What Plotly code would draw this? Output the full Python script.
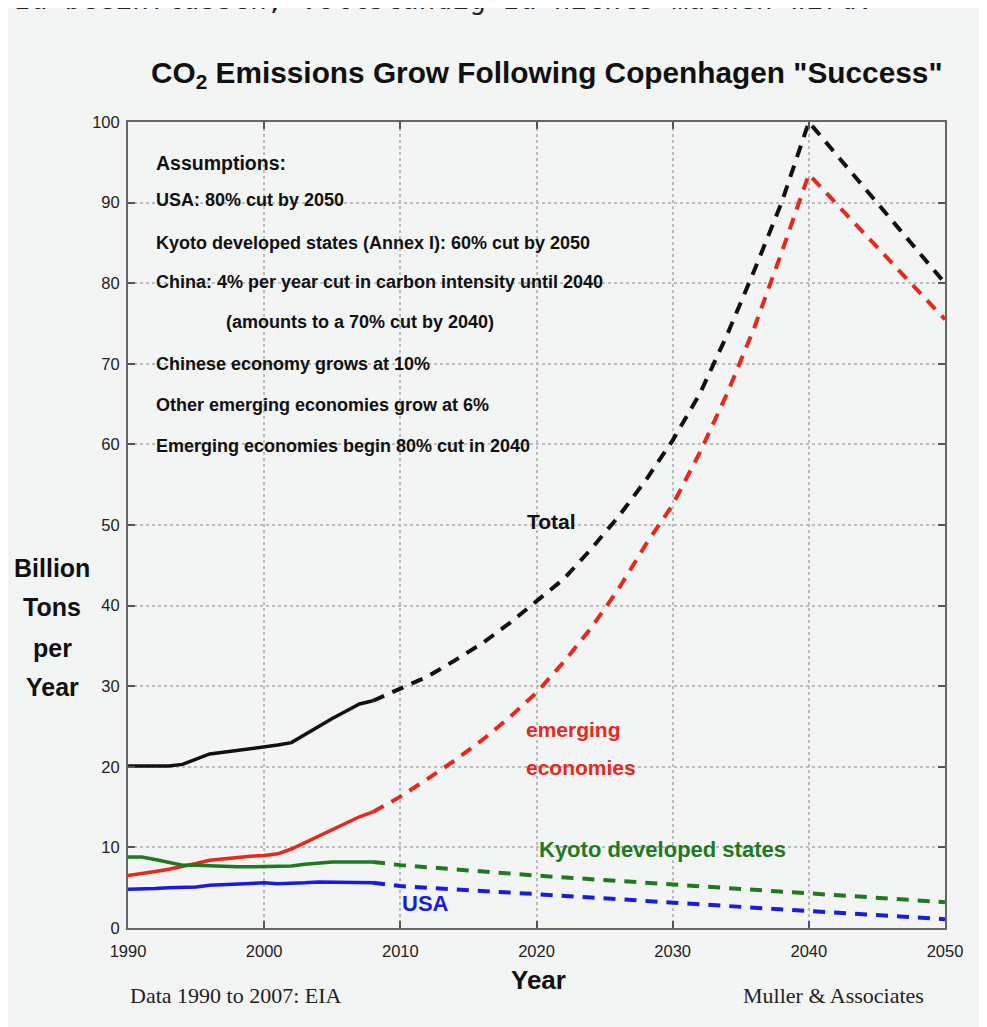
import plotly.graph_objects as go

# ---------------- data ----------------
years_hist = list(range(1990, 2009))
total_hist = [20.1, 20.1, 20.0, 20.1, 20.3, 21.0, 21.6, 21.8, 22.0, 22.2,
              22.5, 22.7, 23.0, 24.0, 25.1, 26.0, 26.9, 27.8, 28.2]
emerging_hist = [6.5, 6.7, 7.0, 7.3, 7.6, 8.0, 8.4, 8.6, 8.8, 8.9,
                 9.0, 9.2, 9.8, 10.6, 11.4, 12.2, 13.0, 13.8, 14.4]
kyoto_hist = [8.8, 8.8, 8.5, 8.1, 7.8, 7.8, 7.7, 7.6, 7.6, 7.6,
              7.6, 7.7, 7.7, 7.9, 8.1, 8.2, 8.2, 8.2, 8.2]
usa_hist = [4.8, 4.8, 4.9, 5.0, 5.0, 5.1, 5.3, 5.4, 5.4, 5.5,
            5.6, 5.5, 5.5, 5.6, 5.7, 5.7, 5.6, 5.7, 5.6]

years_proj = [2008, 2010, 2012, 2014, 2016, 2018, 2020, 2022, 2024, 2026,
              2028, 2030, 2032, 2034, 2036, 2038, 2040, 2050]
total_proj = [28.2, 29.7, 31.2, 33.2, 35.3, 37.8, 40.5, 43.3, 47.0, 51.0,
              55.5, 60.5, 66.3, 73.6, 81.6, 90.0, 100.0, 80.0]
emerging_proj = [14.4, 16.3, 18.5, 20.8, 23.3, 26.1, 29.2, 33.0, 37.2, 42.0,
                 47.5, 52.5, 59.0, 66.3, 74.5, 83.8, 93.5, 75.5]
years_proj_dev = [2008, 2010, 2020, 2030, 2040, 2050]
kyoto_proj = [8.2, 7.8, 6.5, 5.4, 4.3, 3.2]
usa_proj = [5.6, 5.2, 4.2, 3.1, 2.1, 1.1]

x_ticks = [1990, 2000, 2010, 2020, 2030, 2040, 2050]
y_ticks = [0, 10, 20, 30, 40, 50, 60, 70, 80, 90, 100]

assumptions = [
    "Assumptions:",
    "USA: 80% cut by 2050",
    "Kyoto developed states (Annex I): 60% cut by 2050",
    "China: 4% per year cut in carbon intensity until 2040",
    "(amounts to a 70% cut by 2040)",
    "Chinese economy grows at 10%",
    "Other emerging economies grow at 6%",
    "Emerging economies begin 80% cut in 2040",
]

# ---------------- style ----------------
BLACK = "#111111"
RED = "#e8281c"
GREEN = "#1f7a1f"
BLUE = "#1a1ae6"
BG = "#f3f4f4"
SANS = "Liberation Sans, Arial, sans-serif"
SERIF = "Liberation Serif, Times New Roman, serif"
DASH = "12px,9px"

OFF = 8  # default body margin of the html page
W, H = 987 - OFF, 1027 - OFF
L, R, T, B = 128, 945, 122, 928   # plot area in page pixels


def xp(px):
    return (px - L) / (R - L)


def yp(py):
    return (B - py) / (B - T)


fig = go.Figure()

series = [
    (years_hist, total_hist, years_proj, total_proj, BLACK),
    (years_hist, emerging_hist, years_proj, emerging_proj, RED),
    (years_hist, kyoto_hist, years_proj_dev, kyoto_proj, GREEN),
    (years_hist, usa_hist, years_proj_dev, usa_proj, BLUE),
]
for xh, yh, xpj, ypj, col in series:
    fig.add_trace(go.Scatter(x=xh, y=yh, mode="lines",
                             line=dict(color=col, width=3.5), showlegend=False))
    fig.add_trace(go.Scatter(x=xpj, y=ypj, mode="lines",
                             line=dict(color=col, width=4, dash=DASH), showlegend=False))

ann = []
# assumptions block
ass_y = [94.9, 90.3, 85.0, 80.1, 75.2, 70.0, 64.9, 59.8]
for i, (txt, yv) in enumerate(zip(assumptions, ass_y)):
    ann.append(dict(x=1997.05 if i == 4 else 1991.9, y=yv, xref="x", yref="y",
                    text=txt, showarrow=False, xanchor="left", yanchor="middle",
                    font=dict(family=SANS, size=19.5 if i == 0 else 18, color="#111",
                              weight="bold")))

# series labels
ann.append(dict(x=2021.1, y=50.4, text="Total", showarrow=False, xanchor="center",
                font=dict(family=SANS, size=21, color=BLACK, weight="bold")))
ann.append(dict(x=2019.1, y=24.6, text="emerging", showarrow=False, xanchor="left",
                font=dict(family=SANS, size=21, color=RED, weight="bold")))
ann.append(dict(x=2019.1, y=19.9, text="economies", showarrow=False, xanchor="left",
                font=dict(family=SANS, size=21, color=RED, weight="bold")))
ann.append(dict(x=2020.0, y=9.7, text="Kyoto developed states", showarrow=False,
                xanchor="left",
                font=dict(family=SANS, size=22, color=GREEN, weight="bold")))
ann.append(dict(x=2010.0, y=3.1, text="USA", showarrow=False, xanchor="left",
                font=dict(family=SANS, size=22, color=BLUE, weight="bold")))

# title
ann.append(dict(x=xp(547), y=yp(75), xref="paper", yref="paper",
                text='CO<sub>2</sub> Emissions Grow Following Copenhagen "Success"',
                showarrow=False, xanchor="center", yanchor="middle",
                font=dict(family=SANS, size=29.8, color="#111", weight="bold")))

# y-axis title, one line each
for txt, py in zip(["Billion", "Tons", "per", "Year"], [568, 607, 648, 687]):
    ann.append(dict(x=xp(52), y=yp(py), xref="paper", yref="paper", text=txt,
                    showarrow=False, xanchor="center", yanchor="middle",
                    font=dict(family=SANS, size=25, color="#111", weight="bold")))

# x-axis title
ann.append(dict(x=xp(538), y=yp(980), xref="paper", yref="paper", text="Year",
                showarrow=False, xanchor="center", yanchor="middle",
                font=dict(family=SANS, size=26, color="#111", weight="bold")))

# footer texts
ann.append(dict(x=xp(128), y=yp(995), xref="paper", yref="paper",
                text="Data 1990 to 2007: EIA", showarrow=False,
                xanchor="left", yanchor="middle",
                font=dict(family=SERIF, size=22, color="#222")))
ann.append(dict(x=xp(926), y=yp(995), xref="paper", yref="paper",
                text="Muller &amp; Associates", showarrow=False,
                xanchor="right", yanchor="middle",
                font=dict(family=SERIF, size=22, color="#222")))

# cut-off line of page text at very top
ann.append(dict(x=xp(12), y=yp(18), xref="paper", yref="paper",
                text="zu beeinflussen, vollständig zu nichts machen wird.",
                showarrow=False, xanchor="left", yanchor="bottom",
                font=dict(family="DejaVu Sans Mono", size=28, color="#222")))

fig.update_layout(
    width=W, height=H, autosize=False,
    margin=dict(l=L - OFF, r=W - (R - OFF), t=T - OFF, b=H - (B - OFF), pad=0),
    paper_bgcolor=BG, plot_bgcolor=BG,
    annotations=ann,
)

axis_common = dict(
    showline=True, linecolor="#666", linewidth=2, mirror="allticks",
    ticks="inside", ticklen=7, tickwidth=1.5, tickcolor="#555",
    showgrid=True, gridcolor="#bdbdbd", griddash="dot", gridwidth=1.5,
    zeroline=False,
    tickfont=dict(family=SANS, size=16.5, color="#222"),
)
fig.update_xaxes(range=[1990, 2050], tickvals=x_ticks, ticklabelstandoff=7,
                 **axis_common)
fig.update_yaxes(range=[0, 100], tickvals=y_ticks, ticklabelstandoff=3,
                 **axis_common)

fig.write_html("out.html")
